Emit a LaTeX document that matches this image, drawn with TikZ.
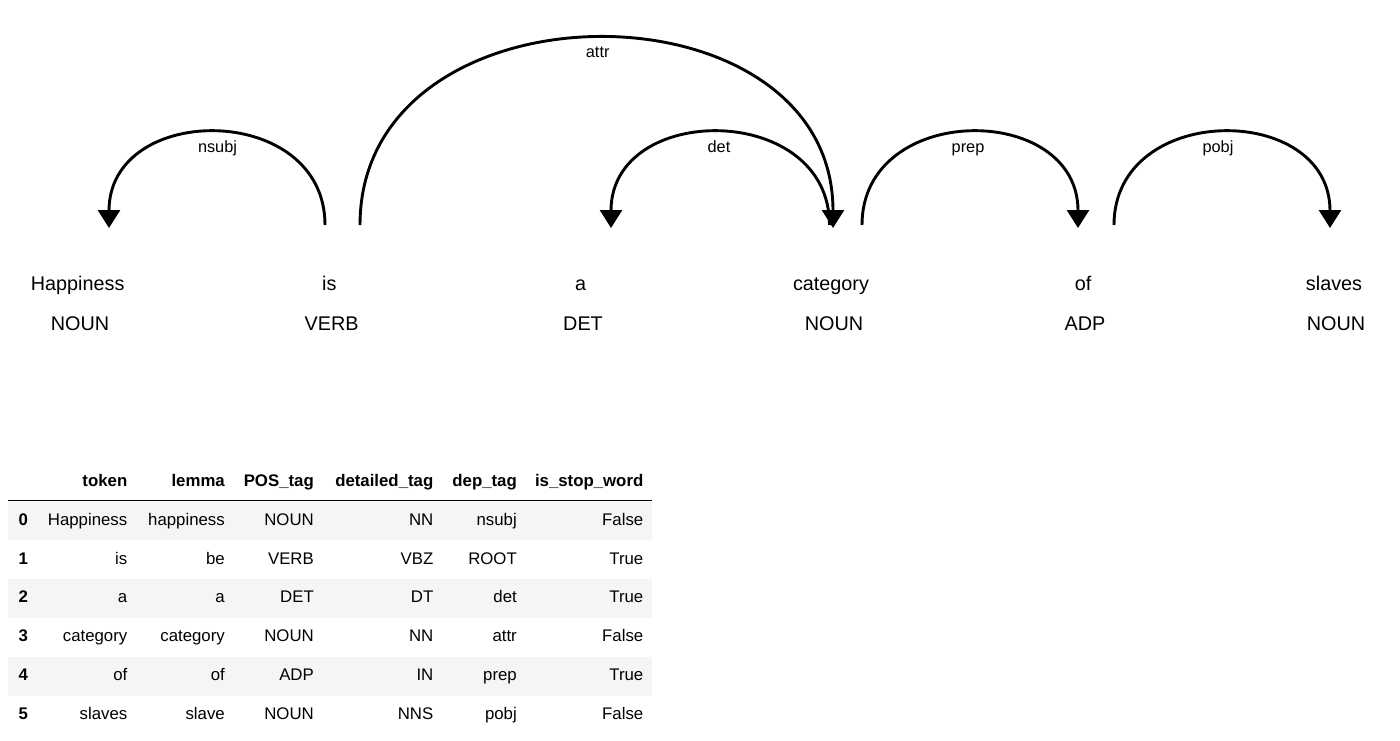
\documentclass[tikz,border=0pt]{standalone}
\usepackage{fontspec}
\setmainfont{Liberation Sans}
\usetikzlibrary{arrows.meta}
\begin{document}
\begin{tikzpicture}[x=1pt,y=-1pt,
  word/.style={anchor=base,inner sep=0pt,font=\fontsize{19.8}{22}\selectfont},
  arclabel/.style={anchor=base,inner sep=0pt,font=\fontsize{16.3}{18}\selectfont},
  deparc/.style={line width=2.9pt,-{Triangle[width=22pt,length=18pt]}},
  cell/.style={anchor=base east,inner sep=0pt,font=\fontsize{16.8}{19}\selectfont},
  head/.style={cell,font=\fontsize{16.8}{19}\selectfont\bfseries},
  idx/.style={anchor=base,inner sep=0pt,font=\fontsize{16.8}{19}\selectfont\bfseries},
  shade/.style={fill=black!4,draw=none}]
\useasboundingbox (0,0) rectangle (1400,741);
\fill[white] (0,0) rectangle (1400,741);

% words and tags
\node[word] (w0) at (77.7,290) {Happiness};
\node[word] (w1) at (329.3,290) {is};
\node[word] (w2) at (580.5,290) {a};
\node[word] (w3) at (831,290) {category};
\node[word] (w4) at (1083,290) {of};
\node[word] (w5) at (1334,290) {slaves};
\node[word] (t0) at (80,330) {NOUN};
\node[word] (t1) at (331.7,330) {VERB};
\node[word] (t2) at (583,330) {DET};
\node[word] (t3) at (834,330) {NOUN};
\node[word] (t4) at (1085,330) {ADP};
\node[word] (t5) at (1336,330) {NOUN};

% arc end points
\coordinate (s1) at (325,225);   \coordinate (e1) at (109,228);
\coordinate (s2) at (360,225);   \coordinate (e2) at (833,228);
\coordinate (s3) at (829.5,225); \coordinate (e3) at (611,228);
\coordinate (s4) at (862,225);   \coordinate (e4) at (1078,228);
\coordinate (s5) at (1114,225);  \coordinate (e5) at (1330,228);

\draw[deparc] (s1) .. controls +(0,-123.3) and +(0,-126.3) .. (e1);
\draw[deparc] (s2) .. controls +(0,-249) and +(0,-252) .. (e2);
\draw[deparc] (s3) .. controls +(0,-123.3) and +(0,-126.3) .. (e3);
\draw[deparc] (s4) .. controls +(0,-123.3) and +(0,-126.3) .. (e4);
\draw[deparc] (s5) .. controls +(0,-123.3) and +(0,-126.3) .. (e5);

\node[arclabel] (l1) at (217.5,153) {nsubj};
\node[arclabel] (l2) at (597.7,57.3) {attr};
\node[arclabel] (l3) at (719,153) {det};
\node[arclabel] (l4) at (968,153) {prep};
\node[arclabel] (l5) at (1218,153) {pobj};

% table
\fill[shade] (8,501.5) rectangle (652,540.3);
\fill[shade] (8,579.1) rectangle (652,617.9);
\fill[shade] (8,656.7) rectangle (652,695.5);
\draw[line width=1.8pt] (8,500.5) -- (652,500.5);

\node[head] (h1) at (127.5,486.7) {token};
\node[head] (h2) at (225,486.7) {lemma};
\node[head] (h3) at (314,486.7) {POS\_tag};
\node[head] (h4) at (433.5,486.7) {detailed\_tag};
\node[head] (h5) at (517,486.7) {dep\_tag};
\node[head] (h6) at (643.5,486.7) {is\_stop\_word};

\foreach \i/\a/\b/\c/\d/\e/\f in {
  0/Happiness/happiness/NOUN/NN/nsubj/False,
  1/is/be/VERB/VBZ/ROOT/True,
  2/a/a/DET/DT/det/True,
  3/category/category/NOUN/NN/attr/False,
  4/of/of/ADP/IN/prep/True,
  5/slaves/slave/NOUN/NNS/pobj/False}{
  \pgfmathsetmacro{\yy}{525.3+38.8*\i}
  \node[idx] (r\i) at (23.3,\yy) {\i};
  \node[cell] (r\i c1) at (127.5,\yy) {\a};
  \node[cell] (r\i c2) at (225,\yy) {\b};
  \node[cell] (r\i c3) at (314,\yy) {\c};
  \node[cell] (r\i c4) at (433.5,\yy) {\d};
  \node[cell] (r\i c5) at (517,\yy) {\e};
  \node[cell] (r\i c6) at (643.5,\yy) {\f};
}
\end{tikzpicture}
\end{document}
